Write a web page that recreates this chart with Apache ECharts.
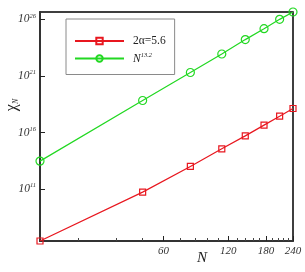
<!DOCTYPE html>
<html><head><meta charset="utf-8">
<script src="https://cdn.jsdelivr.net/npm/echarts@6/dist/echarts.min.js"></script>
<style>html,body{margin:0;padding:0;background:#fff}#c{width:305px;height:272px}</style>
</head><body><div id="c"></div>
<script>
// Data (log-log plot)
const N = [16, 48, 80, 112, 144, 176, 208, 240];
const chiAlpha = [2.57e6, 5.37e10, 1.0e13, 3.63e14, 5.01e15, 4.47e16, 2.75e17, 1.32e18];
const chiPower = [2.95e13, 6.76e18, 2.0e21, 8.71e22, 1.62e24, 1.51e25, 1.0e26, 4.47e26];
const seriesNames = ['2α=5.6', 'N^13.2'];
const xTickLabels = [60, 120, 180, 240];
const xMinorTicks = [24, 36, 48, 72, 84, 96, 108, 132, 144, 156, 168, 192, 204, 216, 228];
const yTickExponents = [11, 16, 21, 26];

const RED = '#e8171f', GREEN = '#22d822';
const SERIF = 'Liberation Serif';
const lg = Math.log10;
const xMin = lg(16), xMax = lg(240), yMin = 6.41, yMax = 26.65;

const chart = echarts.init(document.getElementById('c'), null, {renderer: 'canvas'});
const pts = (ys) => N.map((n, i) => [lg(n), lg(ys[i])]);

chart.setOption({
  animation: false,
  backgroundColor: '#fff',
  grid: {left: 40, right: 12, top: 12, bottom: 31, show: true, borderColor: '#000', borderWidth: 1.5, outerBoundsMode: 'none'},
  xAxis: [{
    type: 'value', min: xMin, max: xMax,
    axisLine: {show: true, onZero: false, lineStyle: {color: '#333', width: 2}},
    axisTick: {show: true, inside: true, length: 5, customValues: xTickLabels.map(lg), lineStyle: {color: '#222', width: 1}},
    axisLabel: {show: true, margin: 5, customValues: xTickLabels.map(lg),
      formatter: v => String(Math.round(Math.pow(10, v))),
      fontFamily: SERIF, fontStyle: 'italic', fontSize: 11, color: '#333'},
    splitLine: {show: false}
  }, {
    type: 'value', min: xMin, max: xMax, position: 'bottom',
    axisLine: {show: false},
    axisTick: {show: true, inside: true, length: 3, customValues: xMinorTicks.map(lg), lineStyle: {color: '#444', width: 1}},
    axisLabel: {show: false},
    splitLine: {show: false}
  }],
  yAxis: {
    type: 'value', min: yMin, max: yMax,
    axisLine: {show: true, onZero: false, lineStyle: {color: '#333', width: 2}},
    axisTick: {show: true, inside: true, length: 5, customValues: yTickExponents, lineStyle: {color: '#222', width: 1}},
    axisLabel: {show: true, margin: 4, customValues: yTickExponents,
      formatter: v => '{b|10}{s|' + Math.round(v) + '}',
      rich: {
        b: {fontFamily: SERIF, fontStyle: 'italic', fontSize: 11.5, color: '#333', lineHeight: 14},
        s: {fontFamily: SERIF, fontStyle: 'italic', fontSize: 6.5, color: '#333', verticalAlign: 'top', lineHeight: 8}
      }},
    splitLine: {show: false}
  },
  legend: {
    orient: 'vertical', left: 66, top: 19,
    padding: [16, 9, 10, 8], itemGap: 5, itemWidth: 49, itemHeight: 8,
    borderColor: '#8a8a8a', borderWidth: 1, backgroundColor: '#fff',
    data: seriesNames,
    formatter: name => name === seriesNames[0] ? '{t|2α=5.6}' : '{i|N}{s|13.2}',
    textStyle: {
      rich: {
        t: {fontFamily: SERIF, fontSize: 11.5, color: '#222', lineHeight: 13, padding: [0, 0, 0, 4]},
        i: {fontFamily: SERIF, fontStyle: 'italic', fontSize: 11.5, color: '#222', lineHeight: 13, padding: [0, 0, 0, 4]},
        s: {fontFamily: SERIF, fontStyle: 'italic', fontSize: 6.5, color: '#222', verticalAlign: 'top', lineHeight: 8}
      }
    }
  },
  graphic: [
    {type: 'text', x: 12, y: 105, rotation: Math.PI / 2,
      style: {text: '{c|χ}{n|N}', align: 'center', verticalAlign: 'middle',
        rich: {
          c: {fontFamily: SERIF, fontSize: 16, fill: '#222', lineHeight: 16},
          n: {fontFamily: SERIF, fontStyle: 'italic', fontSize: 8, fill: '#222', verticalAlign: 'bottom', lineHeight: 8}
        }}},
    {type: 'text', x: 202, y: 258,
      style: {text: 'N', fontFamily: SERIF, fontStyle: 'italic', fontSize: 15, fill: '#222', align: 'center', verticalAlign: 'middle'}}
  ],
  series: [{
    name: seriesNames[0], type: 'line', xAxisIndex: 0, data: pts(chiAlpha),
    symbol: 'rect', symbolSize: 6, showAllSymbol: true,
    lineStyle: {color: RED, width: 1.2},
    itemStyle: {color: 'rgba(255,255,255,0)', borderColor: RED, borderWidth: 1.2},
    emphasis: {disabled: true}, z: 3
  }, {
    name: seriesNames[1], type: 'line', xAxisIndex: 0, data: pts(chiPower),
    symbol: 'circle', symbolSize: 8, showAllSymbol: true,
    lineStyle: {color: GREEN, width: 1.2},
    itemStyle: {color: 'rgba(255,255,255,0)', borderColor: GREEN, borderWidth: 1.2},
    emphasis: {disabled: true}, z: 3
  }]
});
</script></body></html>
